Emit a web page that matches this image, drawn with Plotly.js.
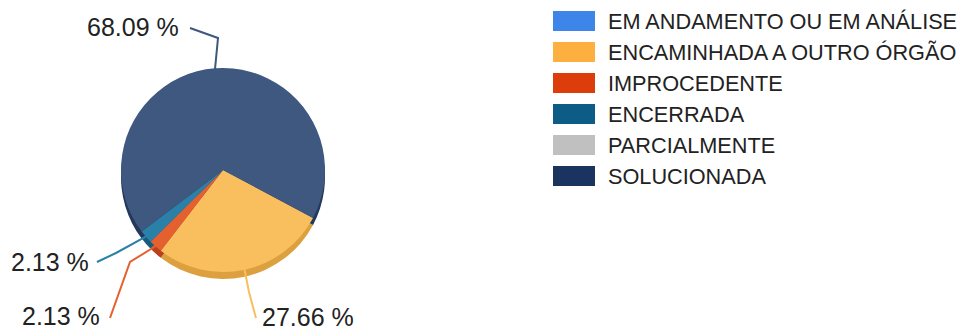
<!DOCTYPE html>
<html>
<head>
<meta charset="utf-8">
<script src="https://cdn.plot.ly/plotly-3.0.1.min.js"></script>
<style>html,body{margin:0;padding:0;background:#fff;}#chart{width:964px;height:331px;}</style>
</head>
<body>
<div id="chart"></div>
<script>
// ---- data ----
const categories = ["EM ANDAMENTO OU EM ANÁLISE", "ENCAMINHADA A OUTRO ÓRGÃO", "IMPROCEDENTE", "ENCERRADA", "PARCIALMENTE", "SOLUCIONADA"];
const counts = [0, 13, 1, 1, 0, 32];
const legendColors = ["#3D85E8", "#FDAF40", "#DC3D0A", "#0D5C86", "#C0C0C0", "#1A345F"];
const sliceColors = ["#3D85E8", "#F9BE5E", "#E4602E", "#2B80A8", "#C0C0C0", "#3E5880"];
const rimColors = ["#2A66B8", "#DCA03E", "#B8401A", "#1A5A7C", "#999999", "#23385A"];

// ---- layout config ----
const W = 964, H = 331;
const cx = 223, cy = 170, R = 102, depth = 7;
const rotation = 118;
// leader lines: from slice edge to elbow/end pixel positions; text side & offset
const leader = {
  1: {pts: [[249, 292], [256, 318]], side: "left", tdx: 4, tdy: -1},
  2: {pts: [[130, 262], [110, 318]], side: "right", tdx: -8, tdy: -2},
  3: {pts: [[116, 253], [97, 262]], side: "right", tdx: -6, tdy: 0},
  5: {pts: [[218, 38], [190, 28]], side: "right", tdx: -9, tdy: -1}
};
const labelFont = {family: "Liberation Sans, Arial, sans-serif", size: 25, color: "#222222"};
const legendFont = {family: "Liberation Sans, Arial, sans-serif", size: 21.7, color: "#222222"};

const px = x => x / W, py = y => 1 - y / H;
function dom(shift) {
  return {x: [px(cx - R), px(cx + R)], y: [py(cy + shift + R), py(cy + shift - R)]};
}

const rimTrace = {
  type: "pie", labels: categories, values: counts, sort: false, direction: "clockwise",
  rotation: rotation, domain: dom(depth), textinfo: "none", hoverinfo: "skip",
  marker: {colors: rimColors, line: {width: 0}}, showlegend: false
};
const faceTrace = {
  type: "pie", labels: categories, values: counts, sort: false, direction: "clockwise",
  rotation: rotation, domain: dom(0), textinfo: "none",
  marker: {colors: sliceColors, line: {width: 0}}, showlegend: false
};

const total = counts.reduce((a, b) => a + b, 0);
const shapes = [], annotations = [];
let cum = 0;
counts.forEach((v, i) => {
  const start = cum;
  cum += v;
  if (v === 0 || !leader[i]) return;
  const mid = rotation + ((start + v / 2) / total) * 360;
  const a = mid * Math.PI / 180;
  const ex = cx + (R - 1) * Math.sin(a), ey = cy - (R - 1) * Math.cos(a);
  const L = leader[i];
  const pts = [[ex, ey]].concat(L.pts);
  const path = pts.map((p, k) => (k ? "L" : "M") + px(p[0]) + "," + py(p[1])).join(" ");
  shapes.push({type: "path", xref: "paper", yref: "paper", path: path,
    line: {color: sliceColors[i], width: 2}});
  const end = pts[pts.length - 1];
  annotations.push({xref: "paper", yref: "paper", x: px(end[0] + L.tdx), y: py(end[1] + L.tdy),
    xanchor: L.side, yanchor: "middle", showarrow: false,
    text: (v / total * 100).toFixed(2) + " %", font: labelFont});
});

// custom legend
const lgX = 553, lgW = 42, lgH = 20, lgY0 = 21, lgStep = 31, lgTextX = 606;
categories.forEach((c, i) => {
  const yc = lgY0 + i * lgStep;
  shapes.push({type: "rect", xref: "paper", yref: "paper",
    x0: px(lgX), x1: px(lgX + lgW), y0: py(yc + lgH / 2), y1: py(yc - lgH / 2),
    fillcolor: legendColors[i], line: {width: 0}});
  annotations.push({xref: "paper", yref: "paper", x: px(lgTextX), y: py(yc),
    xanchor: "left", yanchor: "middle", showarrow: false, text: c, font: legendFont});
});

Plotly.newPlot("chart", [rimTrace, faceTrace], {
  width: W, height: H, margin: {l: 0, r: 0, t: 0, b: 0},
  paper_bgcolor: "#ffffff", showlegend: false,
  shapes: shapes, annotations: annotations
}, {displayModeBar: false, staticPlot: true});
</script>
</body>
</html>
